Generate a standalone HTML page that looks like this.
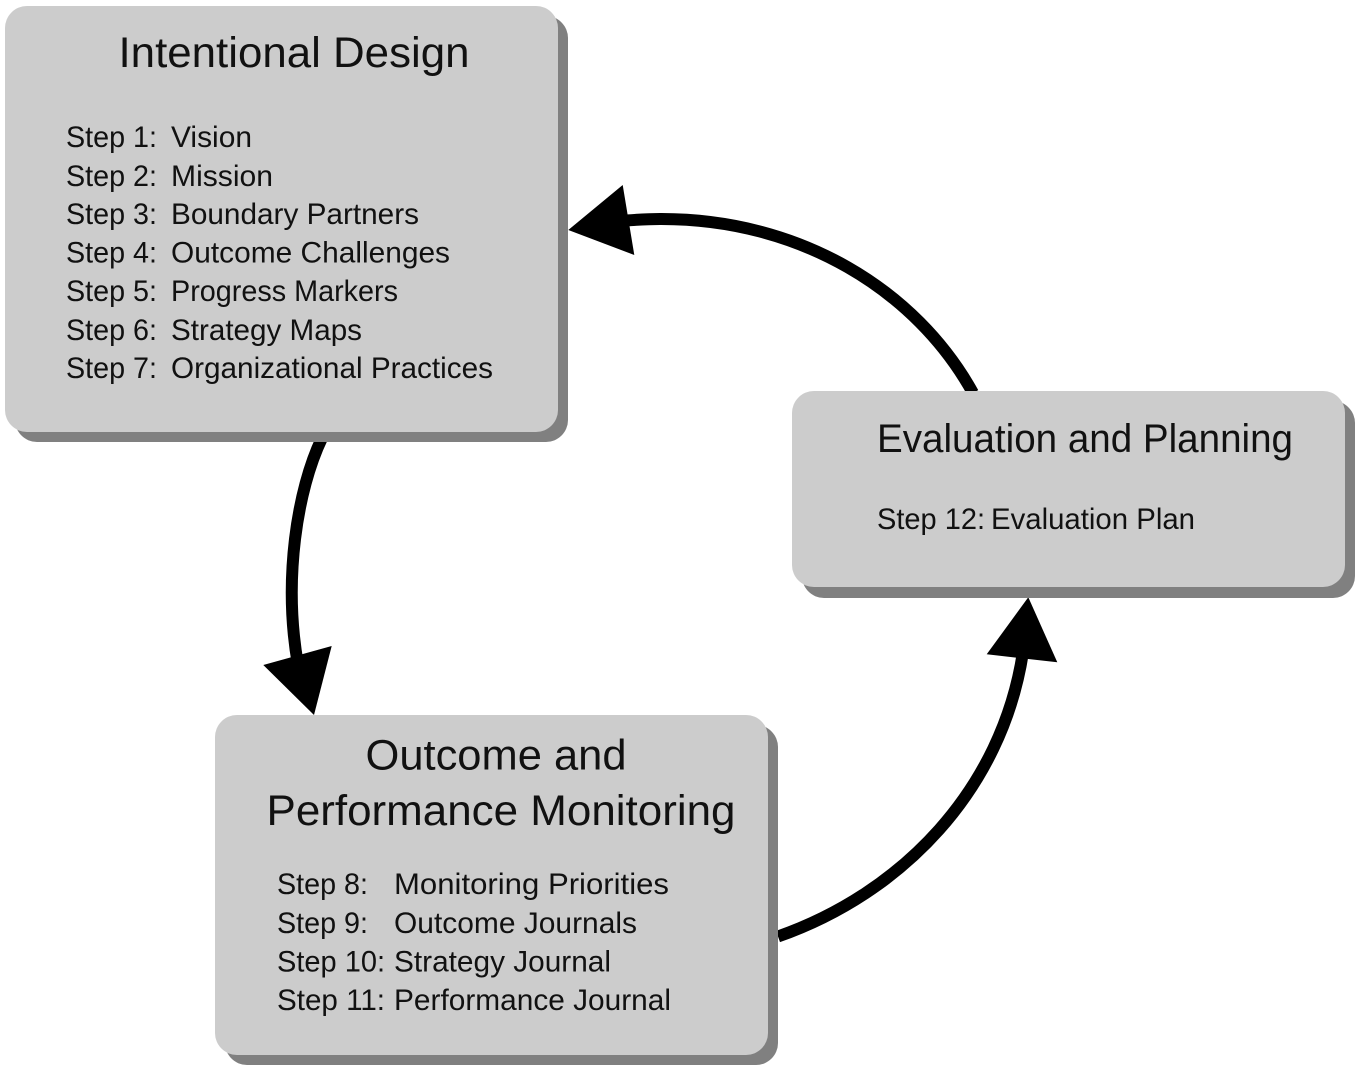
<!DOCTYPE html>
<html>
<head>
<meta charset="utf-8">
<style>
html,body{margin:0;padding:0;background:#fff;width:1360px;height:1071px;overflow:hidden}
svg{display:block}
text{font-family:"Liberation Sans",sans-serif;fill:#111}
.t{font-size:43px}
.s{font-size:29.5px}
</style>
</head>
<body>
<svg width="1360" height="1071" viewBox="0 0 1360 1071" xmlns="http://www.w3.org/2000/svg">
<!-- connectors -->
<path d="M973 393C916 290 800 218.5 660 219C650 219 640 219.5 626 220.5" fill="none" stroke="#000" stroke-width="12"/>
<polygon points="568.3,230 622.7,185 634.3,255" fill="#000"/>
<path d="M322 438C297 490 283 580 298 665" fill="none" stroke="#000" stroke-width="12"/>
<polygon points="314,715 263.3,665 331.7,646" fill="#000"/>
<path d="M778 936.5C902 893 1002 790 1023 652" fill="none" stroke="#000" stroke-width="12"/>
<polygon points="1028.3,597.3 986.7,654.3 1057.3,662.3" fill="#000"/>
<!-- shadows -->
<rect x="15" y="16" width="553" height="426" rx="22" fill="#808080"/>
<rect x="802" y="401" width="553" height="197" rx="22" fill="#808080"/>
<rect x="225" y="725" width="553" height="340" rx="22" fill="#808080"/>
<!-- boxes -->
<rect x="5" y="6" width="553" height="426" rx="22" fill="#cccccc"/>
<rect x="792" y="391" width="553" height="196" rx="22" fill="#cccccc"/>
<rect x="215" y="715" width="553" height="340" rx="22" fill="#cccccc"/>
<!-- Box 1 -->
<text class="t" x="294" y="67" text-anchor="middle" textLength="351" lengthAdjust="spacingAndGlyphs">Intentional Design</text>
<text class="s" x="66" y="147" textLength="91" lengthAdjust="spacingAndGlyphs">Step 1:</text><text class="s" x="171" y="147" textLength="81" lengthAdjust="spacingAndGlyphs">Vision</text>
<text class="s" x="66" y="186" textLength="91" lengthAdjust="spacingAndGlyphs">Step 2:</text><text class="s" x="171" y="186" textLength="102" lengthAdjust="spacingAndGlyphs">Mission</text>
<text class="s" x="66" y="224" textLength="91" lengthAdjust="spacingAndGlyphs">Step 3:</text><text class="s" x="171" y="224" textLength="248" lengthAdjust="spacingAndGlyphs">Boundary Partners</text>
<text class="s" x="66" y="262.5" textLength="91" lengthAdjust="spacingAndGlyphs">Step 4:</text><text class="s" x="171" y="262.5" textLength="279" lengthAdjust="spacingAndGlyphs">Outcome Challenges</text>
<text class="s" x="66" y="301" textLength="91" lengthAdjust="spacingAndGlyphs">Step 5:</text><text class="s" x="171" y="301" textLength="227" lengthAdjust="spacingAndGlyphs">Progress Markers</text>
<text class="s" x="66" y="340" textLength="91" lengthAdjust="spacingAndGlyphs">Step 6:</text><text class="s" x="171" y="340" textLength="191" lengthAdjust="spacingAndGlyphs">Strategy Maps</text>
<text class="s" x="66" y="378" textLength="91" lengthAdjust="spacingAndGlyphs">Step 7:</text><text class="s" x="171" y="378" textLength="322" lengthAdjust="spacingAndGlyphs">Organizational Practices</text>
<!-- Box 2 -->
<text x="877" y="452" style="font-size:40px" textLength="416" lengthAdjust="spacingAndGlyphs">Evaluation and Planning</text>
<text class="s" x="877" y="529" textLength="108" lengthAdjust="spacingAndGlyphs">Step 12:</text><text class="s" x="991" y="529" textLength="204" lengthAdjust="spacingAndGlyphs">Evaluation Plan</text>
<!-- Box 3 -->
<text class="t" x="496" y="769.5" text-anchor="middle" textLength="261" lengthAdjust="spacingAndGlyphs">Outcome and</text>
<text class="t" x="501" y="825" text-anchor="middle" textLength="469" lengthAdjust="spacingAndGlyphs">Performance Monitoring</text>
<text class="s" x="277" y="894" textLength="91" lengthAdjust="spacingAndGlyphs">Step 8:</text><text class="s" x="394" y="894" textLength="275" lengthAdjust="spacingAndGlyphs">Monitoring Priorities</text>
<text class="s" x="277" y="933" textLength="91" lengthAdjust="spacingAndGlyphs">Step 9:</text><text class="s" x="394" y="933" textLength="243" lengthAdjust="spacingAndGlyphs">Outcome Journals</text>
<text class="s" x="277" y="971.5" textLength="108" lengthAdjust="spacingAndGlyphs">Step 10:</text><text class="s" x="394" y="971.5" textLength="217" lengthAdjust="spacingAndGlyphs">Strategy Journal</text>
<text class="s" x="277" y="1010" textLength="108" lengthAdjust="spacingAndGlyphs">Step 11:</text><text class="s" x="394" y="1010" textLength="277" lengthAdjust="spacingAndGlyphs">Performance Journal</text>
</svg>
</body>
</html>
